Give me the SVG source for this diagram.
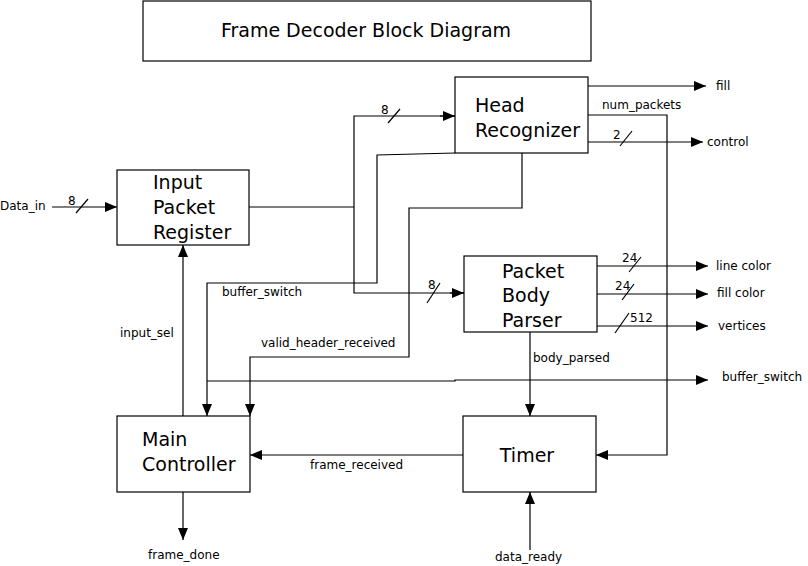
<svg xmlns="http://www.w3.org/2000/svg" width="808" height="566" viewBox="0 0 808 566">
<style>
.box{fill:#fff;stroke:#000;stroke-width:1.2}
.w{fill:none;stroke:#000;stroke-width:1.2}
.t{font-family:"DejaVu Sans",sans-serif;font-size:19px;fill:#000}
.l{font-family:"DejaVu Sans",sans-serif;font-size:12px;fill:#000}
</style>
<defs>
<marker id="a" markerUnits="userSpaceOnUse" markerWidth="12" markerHeight="10" refX="12" refY="5" orient="auto">
<path d="M0,0 L12,5 L0,10 z" fill="#000"/>
</marker>
</defs>
<rect width="808" height="566" fill="#fff"/>
<g id="title">
<rect class="box" x="143" y="1" width="448" height="60"/>
<text class="t" x="366" y="37" text-anchor="middle">Frame Decoder Block Diagram</text>
</g>
<g id="connectors">
<line class="w" x1="52" y1="207" x2="117" y2="207" marker-end="url(#a)"/>
<line class="w" x1="76" y1="213" x2="88" y2="199"/>
<text class="l" x="68" y="205">8</text>
<text class="l" x="0" y="210">Data_in</text>
<polyline class="w" points="249,207 354,207"/>
<polyline class="w" points="455,116 354,116 354,293 464,293"/>
<line class="w" x1="440" y1="116" x2="455" y2="116" marker-end="url(#a)"/>
<line class="w" x1="450" y1="293" x2="464" y2="293" marker-end="url(#a)"/>
<line class="w" x1="388" y1="123" x2="400" y2="109"/>
<text class="l" x="381" y="114">8</text>
<line class="w" x1="427" y1="303" x2="440" y2="283"/>
<text class="l" x="428" y="289">8</text>
<polyline class="w" points="455,153 377,155 377,283 207,283 207,416" marker-end="url(#a)"/>
<text class="l" x="222" y="296">buffer_switch</text>
<polyline class="w" points="522,153 522,208 409,208 409,357 250,357 250,416" marker-end="url(#a)"/>
<text class="l" x="261" y="347">valid_header_received</text>
<polyline class="w" points="207,381 455,381 455,380 708,380" marker-end="url(#a)"/>
<text class="l" x="722" y="381">buffer_switch</text>
<line class="w" x1="183" y1="416" x2="183" y2="245" marker-end="url(#a)"/>
<text class="l" x="120" y="337">input_sel</text>
<line class="w" x1="183" y1="492" x2="183" y2="540" marker-end="url(#a)"/>
<text class="l" x="148" y="559">frame_done</text>
<line class="w" x1="463" y1="455" x2="250" y2="455" marker-end="url(#a)"/>
<text class="l" x="310" y="469">frame_received</text>
<line class="w" x1="530" y1="550" x2="530" y2="492" marker-end="url(#a)"/>
<text class="l" x="495" y="561">data_ready</text>
<line class="w" x1="530" y1="332" x2="530" y2="416" marker-end="url(#a)"/>
<text class="l" x="533" y="362">body_parsed</text>
<polyline class="w" points="588,115 667,115 667,455 596,455" marker-end="url(#a)"/>
<text class="l" x="602" y="109">num_packets</text>
<line class="w" x1="588" y1="86" x2="706" y2="86" marker-end="url(#a)"/>
<text class="l" x="716" y="90">fill</text>
<line class="w" x1="588" y1="142" x2="703" y2="142" marker-end="url(#a)"/>
<line class="w" x1="620" y1="146" x2="632" y2="131"/>
<text class="l" x="613" y="139">2</text>
<text class="l" x="707" y="146">control</text>
<line class="w" x1="597" y1="266" x2="708" y2="266" marker-end="url(#a)"/>
<line class="w" x1="629" y1="272" x2="641" y2="257"/>
<text class="l" x="622" y="262">24</text>
<text class="l" x="716" y="270">line color</text>
<line class="w" x1="597" y1="294" x2="708" y2="294" marker-end="url(#a)"/>
<line class="w" x1="622" y1="300" x2="634" y2="284"/>
<text class="l" x="615" y="290">24</text>
<text class="l" x="717" y="297">fill color</text>
<line class="w" x1="597" y1="326" x2="708" y2="326" marker-end="url(#a)"/>
<line class="w" x1="615" y1="333" x2="629" y2="313"/>
<text class="l" x="630" y="322">512</text>
<text class="l" x="718" y="330">vertices</text>
</g>
<g id="ipr">
<rect class="box" x="117" y="170" width="132" height="75"/>
<text class="t" x="153" y="189">Input</text>
<text class="t" x="153" y="214">Packet</text>
<text class="t" x="153" y="239">Register</text>
</g>
<g id="hr">
<rect class="box" x="455" y="77" width="133" height="76"/>
<text class="t" x="475" y="112">Head</text>
<text class="t" x="475" y="137">Recognizer</text>
</g>
<g id="pbp">
<rect class="box" x="464" y="256" width="133" height="76"/>
<text class="t" x="502" y="278">Packet</text>
<text class="t" x="502" y="302">Body</text>
<text class="t" x="502" y="327">Parser</text>
</g>
<g id="mc">
<rect class="box" x="117" y="416" width="133" height="76"/>
<text class="t" x="142" y="446">Main</text>
<text class="t" x="142" y="471">Controller</text>
</g>
<g id="timer">
<rect class="box" x="463" y="416" width="133" height="76"/>
<text class="t" x="527" y="462" text-anchor="middle">Timer</text>
</g>
</svg>
